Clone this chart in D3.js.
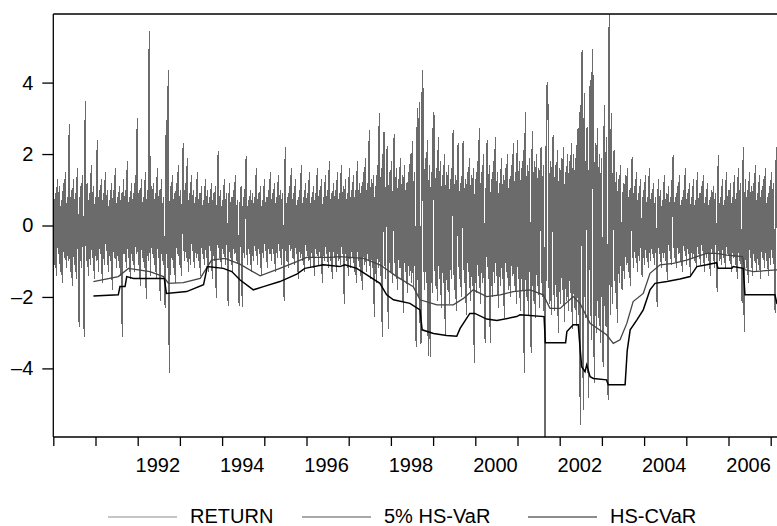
<!DOCTYPE html>
<html>
<head>
<meta charset="utf-8">
<script src="https://cdn.jsdelivr.net/npm/d3@7"></script>
<style>
  body { margin: 0; background: #fff; }
  svg { display: block; font-family: "Liberation Sans", Arial, sans-serif; }
</style>
</head>
<body>
<div id="chart"></div>
<script>
// Return series (one value per sample, samples spaced evenly from 1990)
const returnStart = 1990;
const samplesPerYear = 42.2;
const returnValues = [
  1.2,-1.1,0.9,-1.4,1.3,-0.8,1.1,-1.3,0.7,-1.6,1.2,-0.9,1.5,-1.2,0.8,-1.0,2.84,-1.3,1.0,-1.7,
  1.3,-1.1,0.9,-1.5,1.6,-0.9,-2.85,1.1,-1.2,1.4,-0.8,-3.11,3.48,-1.0,1.2,-1.4,0.9,-1.1,1.7,-0.9,
  1.1,-1.5,0.8,-1.0,2.4,-1.3,1.0,-0.8,1.3,-1.6,0.9,-1.1,1.5,-0.7,1.0,-1.3,0.7,-1.0,1.2,-1.8,
  1.0,-0.9,1.6,-1.2,0.8,-1.0,1.1,-1.4,0.9,-3.11,1.3,-0.8,1.0,-1.2,1.8,-0.9,0.8,-1.5,1.2,-1.0,
  0.9,-1.3,1.4,-0.8,3.0,-1.1,1.0,-1.7,1.3,-0.9,0.8,-1.2,1.5,-2.05,1.0,-1.0,5.45,-1.4,1.1,-0.8,
  1.2,-1.1,0.9,-1.5,1.6,-0.9,1.0,-2.1,1.3,-1.0,0.8,-1.3,-2.3,2.95,-1.2,4.35,-4.13,1.1,-0.9,1.4,
  -1.2,0.9,-1.6,1.2,-0.8,1.7,-1.1,1.0,-1.4,0.8,2.3,-1.0,1.2,-0.9,1.9,-1.3,0.9,-1.1,1.4,-0.7,
  1.0,-1.2,0.8,-0.9,1.5,-1.0,0.9,-1.4,1.1,-0.8,0.7,-1.1,1.3,-0.9,1.0,-1.3,0.8,-0.7,1.2,-1.5,
  0.9,-1.0,1.1,-2.03,0.8,2.08,-0.9,1.0,-1.2,0.7,-0.8,1.3,-1.1,0.9,-0.7,-2.24,1.2,-0.9,0.8,-1.3,
  1.0,-0.8,1.4,-1.0,0.7,-1.2,-2.25,0.9,1.1,-2.27,0.8,-0.9,1.2,1.94,-1.1,0.7,-0.8,1.0,-1.3,0.9,
  -1.0,0.8,-0.7,1.6,-1.1,0.9,-0.8,1.1,-1.4,0.7,-0.9,1.3,-0.7,0.8,-1.2,1.0,-0.8,1.5,-1.0,0.9,
  -0.8,1.2,-1.3,0.8,-0.9,1.4,-0.7,1.0,-1.1,0.9,-0.8,-2.1,2.2,-1.0,0.8,-1.2,1.1,-0.7,1.6,-0.9,
  0.9,-1.1,1.3,-0.8,0.7,-1.5,1.0,-0.9,1.7,-1.0,0.8,-1.3,1.2,-0.7,0.9,-1.0,1.5,-1.2,0.8,-0.9,
  1.1,-1.4,0.9,-0.8,1.6,-1.1,1.0,-0.9,1.3,-1.6,0.8,-1.0,1.4,-0.8,1.0,-1.2,1.8,-1.0,0.9,-1.5,
  1.2,-0.9,1.0,-1.3,1.5,-1.0,0.9,-1.1,1.7,-0.8,1.1,-2.2,1.3,-1.0,0.9,-1.4,1.6,-1.2,1.0,-0.9,
  1.4,-1.3,1.0,-1.6,1.8,-1.0,1.2,-1.4,1.1,-1.8,1.5,-1.1,1.9,-1.3,1.2,-1.0,2.67,-1.5,1.3,-1.2,
  1.4,-2.55,1.1,-1.6,1.7,-1.2,3.14,-1.4,1.6,-3.11,2.45,2.62,-1.5,1.3,2.23,-2.9,1.5,-1.3,1.8,-1.6,
  1.2,2.56,-1.4,1.6,-1.8,1.3,-1.2,1.9,-1.5,1.4,-2.46,1.7,-1.3,1.2,-1.9,1.5,-1.4,2.0,-1.6,2.36,
  -1.7,1.5,-1.4,-3.39,3.29,-2.0,3.45,-3.29,-3.25,4.35,3.4,-1.8,1.9,-1.6,2.39,-3.65,1.7,-3.67,1.5,-1.9,
  3.16,3.04,-1.7,1.6,-2.1,2.47,-1.5,1.8,-2.3,1.4,-1.6,2.0,-3.06,1.5,-1.8,1.7,-2.2,1.3,-1.5,1.9,
  2.67,-1.8,1.4,-2.4,1.6,2.3,-1.5,1.2,-2.0,1.7,2.36,-1.6,1.3,-2.5,1.5,-1.3,1.9,-2.1,1.4,-1.7,
  1.6,-3.85,1.3,-1.9,1.8,-1.4,2.73,-2.2,1.5,-1.6,2.0,-1.8,-3.3,1.4,2.39,-1.5,1.7,-3.3,1.3,-2.0,
  1.8,-1.6,2.48,-1.4,1.5,-2.3,1.2,-1.7,1.9,-1.5,1.4,-2.6,1.6,-1.3,2.0,-1.8,1.3,-2.0,1.7,-1.4,
  2.3,-1.7,1.5,-2.2,2.39,-1.5,1.8,-2.4,1.6,-1.8,2.1,-4.13,3.18,-2.0,1.7,-2.5,1.9,-1.6,-3.57,2.64,
  -2.1,1.8,-2.6,2.0,-1.7,1.6,-2.3,1.9,2.2,-2.0,1.7,-2.8,-6.5,2.98,4.01,2.84,-2.2,1.8,-2.5,2.0,
  2.53,-2.4,1.7,-2.0,2.1,-3.0,1.6,-2.2,1.9,-1.8,2.2,-2.7,1.5,-2.1,2.0,-2.4,1.8,-1.9,2.3,-2.9,
  2.0,-2.3,1.9,-2.8,2.69,-2.5,3.18,-5.58,4.12,4.91,-5.16,3.7,-2.6,2.2,2.76,-4.83,2.1,4.07,-3.2,4.93,
  3.56,-4.41,2.3,-3.0,2.74,-2.6,2.0,-3.3,1.9,-2.4,-3.95,3.37,-2.8,2.48,-3.39,-4.88,6.5,-2.5,3.14,-2.2,
  1.8,2.1,-1.9,1.5,-2.73,1.3,-1.6,1.7,-1.4,-1.8,1.2,-1.5,1.4,-1.1,1.6,-1.3,1.0,-1.7,1.3,1.92,
  -1.2,1.1,-0.9,1.5,-1.3,0.9,-1.0,1.3,-0.8,-1.43,1.0,-1.1,1.4,-0.9,0.8,-1.2,1.6,-1.0,0.9,-0.8,
  1.2,-1.1,0.8,-0.9,-2.27,1.3,-0.8,1.0,-1.2,0.7,-0.9,1.4,-1.0,0.9,-1.52,1.1,-0.7,0.8,-1.1,1.5,
  1.97,-0.9,0.8,-1.2,1.1,-0.8,1.4,-1.0,0.7,-1.3,1.0,-0.7,1.6,-1.1,0.9,-0.8,1.2,-1.4,0.8,-0.9,
  1.3,-1.0,0.7,-1.2,1.5,-0.8,0.9,-1.1,1.1,-0.7,1.4,-1.3,0.8,-0.9,1.2,-1.0,0.7,-1.4,1.0,-0.8,
  1.1,-1.2,0.9,-0.7,-1.85,1.97,-1.0,0.8,-1.1,1.3,-0.9,0.7,-1.2,1.5,-0.8,1.0,-1.0,1.2,-1.3,0.8,
  -0.9,1.4,-1.1,0.9,-1.5,1.6,-1.0,1.2,-1.3,-2.18,2.2,-2.97,1.3,-1.2,1.0,-1.6,1.5,-0.9,1.1,-1.4,
  1.2,-1.0,1.7,-1.3,0.9,-1.1,1.4,-1.5,1.0,-0.9,1.3,-1.2,1.6,-1.0,0.8,-1.4,1.1,-1.1,1.5,-0.9,
  1.2,-1.3,-2.46,2.2
];

// 5% historical-simulation VaR: [year, value]
const hsVar = [
  [1990.95,-1.57],[1991.54,-1.43],[1991.78,-1.2],[1992.29,-1.29],[1992.61,-1.43],[1992.73,-1.62],
  [1993.08,-1.6],[1993.48,-1.48],[1993.75,-0.97],[1994.07,-0.92],[1994.42,-1.08],[1994.9,-1.41],
  [1995.37,-1.2],[1995.77,-1.01],[1996.0,-0.89],[1996.56,-0.89],[1996.79,-0.87],[1997.35,-0.92],
  [1997.74,-1.1],[1998.14,-1.43],[1998.53,-1.71],[1998.69,-2.08],[1999.09,-2.22],[1999.48,-2.22],
  [1999.72,-2.04],[1999.95,-1.8],[2000.27,-1.99],[2000.59,-1.94],[2000.9,-1.85],[2001.3,-1.8],
  [2001.61,-1.94],[2001.77,-2.32],[2002.01,-2.32],[2002.32,-1.99],[2002.48,-2.18],[2002.72,-2.74],
  [2003.11,-3.06],[2003.27,-3.3],[2003.43,-3.2],[2003.59,-2.74],[2003.74,-2.13],[2003.98,-1.9],
  [2004.14,-1.34],[2004.38,-1.1],[2004.69,-1.06],[2005.01,-0.97],[2005.25,-0.87],[2005.48,-0.78],
  [2005.72,-0.78],[2005.96,-0.83],[2006.33,-0.87],[2006.39,-1.24],[2006.59,-1.29],[2007.15,-1.24]
];

// historical-simulation CVaR: [year, value]
const hsCVar = [
  [1990.95,-1.97],[1991.54,-1.94],[1991.58,-1.71],[1991.7,-1.71],[1991.74,-1.43],[1991.9,-1.48],[1992.63,-1.48],
  [1992.68,-1.9],[1993.16,-1.85],[1993.56,-1.66],[1993.65,-1.15],[1994.03,-1.2],[1994.23,-1.29],
  [1994.42,-1.52],[1994.74,-1.8],[1994.98,-1.71],[1995.37,-1.57],[1995.77,-1.36],[1995.96,-1.2],
  [1996.4,-1.1],[1996.79,-1.15],[1996.91,-1.1],[1997.19,-1.2],[1997.43,-1.38],[1997.74,-1.62],
  [1997.9,-1.94],[1998.06,-2.08],[1998.45,-2.18],[1998.69,-2.36],[1998.74,-2.92],[1999.01,-3.02],
  [1999.32,-3.08],[1999.56,-3.1],[1999.64,-2.88],[1999.87,-2.46],[1999.99,-2.46],[2000.27,-2.62],
  [2000.51,-2.66],[2000.98,-2.55],[2001.06,-2.5],[2001.63,-2.55],[2001.66,-3.28],[2002.14,-3.28],
  [2002.17,-2.97],[2002.32,-2.78],[2002.44,-2.78],[2002.48,-3.39],[2002.52,-3.95],[2002.6,-4.09],
  [2002.64,-3.9],[2002.72,-4.23],[2002.8,-4.28],[2003.11,-4.32],[2003.15,-4.46],[2003.55,-4.46],
  [2003.6,-3.5],[2003.67,-2.92],[2003.83,-2.64],[2003.98,-2.36],[2004.14,-1.8],[2004.26,-1.62],
  [2004.54,-1.57],[2004.85,-1.5],[2005.09,-1.43],[2005.25,-1.15],[2005.48,-1.1],[2005.72,-1.04],
  [2005.75,-1.2],[2006.08,-1.2],[2006.11,-1.15],[2006.35,-1.2],[2006.39,-1.94],[2007.1,-1.94],
  [2007.15,-2.2]
];

// Axis ticks and labels
const yTicks = [-4, -2, 0, 2, 4];
const yearTicks = d3.range(1990, 2008);
const yearLabels = [1992, 1994, 1996, 1998, 2000, 2002, 2004, 2006];
const seriesNames = ["RETURN", "5% HS-VaR", "HS-CVaR"];

const width = 777, height = 526;
const plot = {left: 53.3, right: 777, top: 14, bottom: 437};

const svg = d3.select("#chart")
  .append("svg")
  .attr("width", width)
  .attr("height", height);

const xScale = d3.scaleLinear()
  .domain([1990, 2007])
  .range([53.3, 770.7]);

const yScale = d3.scaleLinear()
  .domain([-5.92, 5.92])
  .range([plot.bottom, plot.top]);

svg.append("clipPath")
  .attr("id", "plot-clip")
  .append("rect")
    .attr("x", plot.left)
    .attr("y", plot.top)
    .attr("width", plot.right - plot.left)
    .attr("height", plot.bottom - plot.top);

const returns = returnValues.map((v, i) => ({year: returnStart + i / samplesPerYear, value: v}));
const toObj = arr => arr.map(([year, value]) => ({year, value}));

const line = d3.line()
  .x(d => xScale(d.year))
  .y(d => yScale(d.value));

const g = svg.append("g").attr("clip-path", "url(#plot-clip)");

// the return line is drawn crisp so the dense part reads as a solid band
g.append("path")
  .datum(returns)
  .attr("d", line)
  .attr("fill", "none")
  .attr("stroke", "#6b6b6b")
  .attr("stroke-width", 1.4)
  .attr("shape-rendering", "crispEdges");

g.append("path")
  .datum(toObj(hsVar))
  .attr("d", line)
  .attr("fill", "none")
  .attr("stroke", "#454545")
  .attr("stroke-width", 1.3);

g.append("path")
  .datum(toObj(hsCVar))
  .attr("d", line)
  .attr("fill", "none")
  .attr("stroke", "#000")
  .attr("stroke-width", 1.5);

// Frame: left, bottom and top lines
const frame = svg.append("g").attr("stroke", "#000").attr("stroke-width", 1.3);
frame.append("line").attr("x1", plot.left).attr("x2", plot.left).attr("y1", plot.top).attr("y2", plot.bottom);
frame.append("line").attr("x1", plot.left).attr("x2", plot.right).attr("y1", plot.bottom).attr("y2", plot.bottom);
frame.append("line").attr("x1", plot.left).attr("x2", plot.right).attr("y1", plot.top).attr("y2", plot.top);

// Y axis
const yAxis = d3.axisLeft(yScale)
  .tickValues(yTicks)
  .tickSize(11)
  .tickPadding(9)
  .tickFormat(d => d < 0 ? "\u2013" + Math.abs(d) : d);

svg.append("g")
  .attr("transform", `translate(${plot.left},0)`)
  .call(yAxis)
  .call(g => g.select(".domain").remove())
  .call(g => g.selectAll("line").attr("stroke-width", 1.3))
  .call(g => g.selectAll("text").style("font-size", "20px").attr("fill", "#000")
    .style("font-family", "'Liberation Sans', Arial, sans-serif"));

// X axis: yearly ticks, labels centred on the year
const xAxis = d3.axisBottom(xScale)
  .tickValues(yearTicks)
  .tickSize(9)
  .tickFormat("");

svg.append("g")
  .attr("transform", `translate(0,${plot.bottom})`)
  .call(xAxis)
  .call(g => g.select(".domain").remove())
  .call(g => g.selectAll("line").attr("stroke-width", 1.3));

svg.append("g")
  .selectAll("text")
  .data(yearLabels)
  .join("text")
    .attr("x", d => xScale(d + 0.5) - 1)
    .attr("y", 472)
    .attr("text-anchor", "middle")
    .style("font-size", "20px")
    .text(d => d);

// Legend
const legendColors = ["#8c8c8c", "#555", "#1a1a1a"];
const legendX = [108, 302, 528];
const legend = svg.append("g")
  .selectAll("g")
  .data(seriesNames)
  .join("g")
    .attr("transform", (d, i) => `translate(${legendX[i]},517)`);

legend.append("line")
  .attr("x1", 0).attr("x2", 69)
  .attr("stroke", (d, i) => legendColors[i])
  .attr("stroke-width", 1.2);

legend.append("text")
  .attr("x", 82)
  .attr("y", 6)
  .style("font-size", "20px")
  .text(d => d);
</script>
</body>
</html>
